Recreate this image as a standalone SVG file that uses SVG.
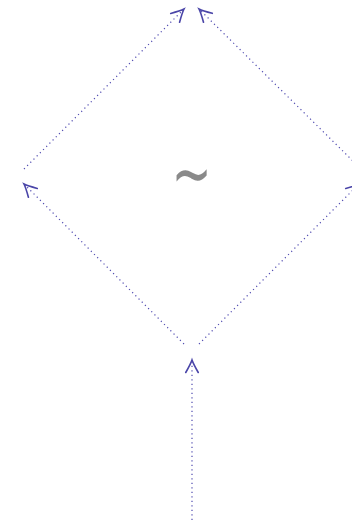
<svg xmlns="http://www.w3.org/2000/svg" width="352" height="524" viewBox="0 0 352 524">
<style>
.e{fill:none;stroke:#4f4ab0;stroke-width:1.2;stroke-dasharray:1.2 3.3}
.lbl{font-family:"DejaVu Sans",sans-serif;font-size:48px;fill:#8a8a8a;text-anchor:middle}
</style>
<defs>
<marker id="ah" markerUnits="userSpaceOnUse" markerWidth="20" markerHeight="20" refX="0" refY="0" viewBox="-12 -8 16 16" orient="auto" overflow="visible">
<path d="M-10,-5 Q-3,-1 0,0 Q-3,1 -10,5" fill="none" stroke="#4a45a8" stroke-width="1.3" stroke-linecap="round"/>
</marker>
</defs>
<rect width="352" height="524" fill="#ffffff"/>
<g id="connectors">
<path class="e" d="M192,520 L192,360" marker-end="url(#ah)"/>
<path class="e" d="M184,344 L24,184" marker-end="url(#ah)"/>
<path class="e" d="M199,344 L359,184" marker-end="url(#ah)"/>
<path class="e" d="M24,169 L184,9" marker-end="url(#ah)"/>
<path class="e" d="M359,167 L199,9" marker-end="url(#ah)"/>
</g>
<g id="node-tilde" transform="translate(191.5,175) scale(1,1.5)">
<text class="lbl" x="0" y="15.5">∼</text>
</g>
</svg>
